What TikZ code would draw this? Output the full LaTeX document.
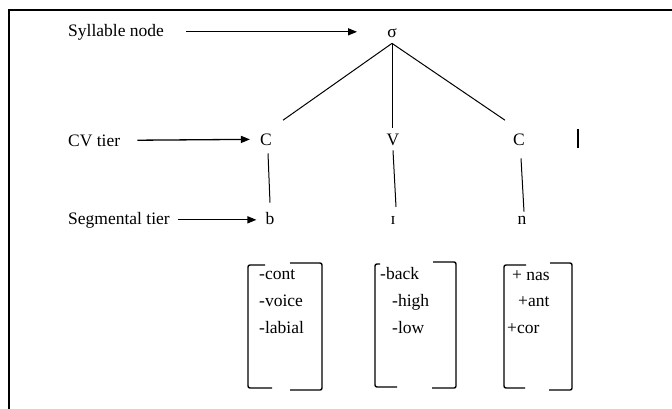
\documentclass[tikz,border=0pt]{standalone}
\usepackage{fontspec}
\setmainfont{Liberation Serif}
\usetikzlibrary{arrows.meta}

\begin{document}
\begin{tikzpicture}[x=1pt,y=-1pt,
  txt/.style={inner sep=0pt,anchor=base,font=\fontsize{17.5}{20}\selectfont},
  lbl/.style={txt,anchor=base west},
  feat/.style={txt,anchor=base west},
  pointer/.style={line width=1.3pt,-{Triangle[length=9pt,width=7pt]}},
  branch/.style={line width=1pt},
  bracket/.style={line width=1.4pt,rounded corners=2pt}]
  \useasboundingbox (0,0) rectangle (672,408);
  \clip (0,0) rectangle (672,408);

  % outer frame (only its top and left edges fall inside the page)
  \draw[line width=2.7pt] (9,430) -- (9,10) -- (700,10);

  % tier labels
  \node[lbl] (lblSyl) at (68,36) {Syllable node};
  \node[lbl] (lblCV)  at (68,146) {CV tier};
  \node[lbl] (lblSeg) at (68,224) {Segmental tier};

  % syllable tree
  \node[txt] (sigma) at (392,37) {σ};
  \node[txt] (C1) at (266,145) {C};
  \node[txt] (V)  at (393,145) {V};
  \node[txt] (C2) at (519,145) {C};
  \node[txt] (b)  at (270,224) {b};
  \node[txt] (I)  at (393,224) {ɪ};
  \node[txt] (n)  at (522,224) {n};

  % pointers from the labels to the tiers
  \draw[pointer,shorten <=22pt,shorten >=30pt] (lblSyl.east) -- (sigma.west |- lblSyl.east);
  \draw[pointer,shorten <=17pt,shorten >=10pt] (lblCV.east) -- (C1.west);
  \draw[pointer,shorten <=8pt,shorten >=9pt] (lblSeg.east) -- (b.west |- lblSeg.east);

  % branches of the syllable node
  \draw[branch] ([shift={(0,6)}]sigma.south) -- ([shift={(17,-13)}]C1.north);
  \draw[branch] ([shift={(0,6)}]sigma.south) -- ([shift={(-1,-5)}]V.north);
  \draw[branch] ([shift={(0,6)}]sigma.south) -- ([shift={(-14,-13)}]C2.north);

  % association lines between the CV and segmental tiers
  \draw[branch] ([shift={(2,8)}]C1.south) -- ([shift={(0,-9)}]b.north);
  \draw[branch] ([shift={(0,5)}]V.south) -- ([shift={(3,-9)}]I.north);
  \draw[branch] ([shift={(2,13)}]C2.south) -- ([shift={(2,-4)}]n.north);

  % stray bar
  \draw[line width=1.2pt] (578,129) -- (578,148);

  % feature matrices
  \draw[bracket] (265,265) -- (248,265) -- (248,388) -- (272,388);
  \draw[bracket] (290,263) -- (322,263) -- (322,390) -- (290,390);
  \node[feat] (f1a) at (259,279) {-cont};
  \node[feat] (f1b) at (259,306) {-voice};
  \node[feat] (f1c) at (259,333) {-labial};

  \draw[bracket] (380,264) -- (375,264) -- (375,387) -- (397,387);
  \draw[bracket] (433,262) -- (456,262) -- (456,388) -- (432,388);
  \node[feat] (f2a) at (380,279) {-back};
  \node[feat] (f2b) at (392,306) {-high};
  \node[feat] (f2c) at (392,333) {-low};

  \draw[bracket] (526,265) -- (504,265) -- (504,388) -- (525,388);
  \draw[bracket] (550,263) -- (572,263) -- (572,390) -- (549,390);
  \node[feat] (f3a) at (512,280) {+ nas};
  \node[feat] (f3b) at (518,306) {+ant};
  \node[feat] (f3c) at (507,333) {+cor};
\end{tikzpicture}
\end{document}
